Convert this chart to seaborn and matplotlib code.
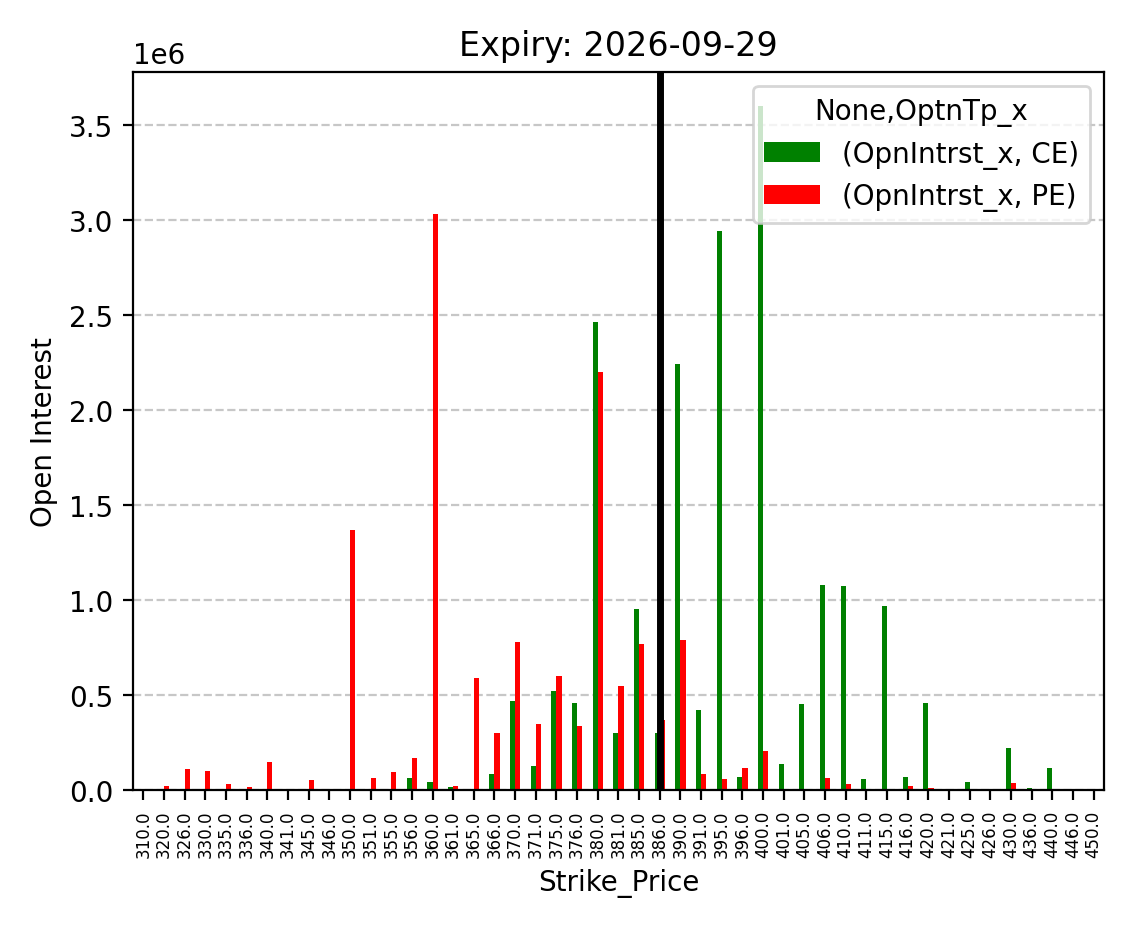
import matplotlib
matplotlib.use("Agg")
import matplotlib.pyplot as plt
import seaborn as sns
import pandas as pd

strikes = [310,320,326,330,335,336,340,341,345,346,350,351,355,356,360,361,365,366,370,371,375,376,380,381,385,386,390,391,395,396,400,401,405,406,410,411,415,416,420,421,425,426,430,436,440,446,450]
ce = [0,0,0,0,0,0,0,0.005,0,0.005,0,0,0,0.065,0.04,0.015,0.005,0.085,0.47,0.125,0.52,0.46,2.46,0.30,0.95,0.30,2.24,0.42,2.94,0.07,3.60,0.135,0.45,1.08,1.075,0.055,0.97,0.07,0.455,0,0.04,0,0.22,0.01,0.115,0.005,0]
pe = [0,0.02,0.11,0.10,0.03,0.015,0.145,0.005,0.05,0.005,1.37,0.065,0.095,0.17,3.03,0.02,0.59,0.30,0.78,0.345,0.60,0.335,2.20,0.545,0.77,0.37,0.79,0.085,0.06,0.115,0.205,0.005,0,0.065,0.03,0,0,0.02,0.01,0,0,0,0.038,0,0,0.005,0]
spot_strike = 386

labels = [f"{s:.1f}" for s in strikes]
df = pd.DataFrame({
    "Strike_Price": labels * 2,
    "OI": [v * 1e6 for v in ce] + [v * 1e6 for v in pe],
    "type": ["(OpnIntrst_x, CE)"] * len(ce) + ["(OpnIntrst_x, PE)"] * len(pe),
})

fig, ax = plt.subplots(figsize=(5.67, 4.64), dpi=200)
sns.barplot(data=df, x="Strike_Price", y="OI", hue="type", order=labels,
            palette=["green", "red"], width=0.5, gap=0, ax=ax, saturation=1)
ax.axvline(labels.index(f"{spot_strike:.1f}"), color="black", lw=2.5)
ax.set_ylim(0, 3.78e6)
ax.set_xlim(-0.5, len(labels) - 0.5)
ax.grid(axis="y", linestyle="--", alpha=0.7)
ax.set_axisbelow(True)
ax.tick_params(axis="x", labelrotation=90, labelsize=6)
ax.set_title("Expiry: 2026-09-29")
ax.set_xlabel("Strike_Price")
ax.set_ylabel("Open Interest")
ax.legend(title="None,OptnTp_x", loc="upper right")
fig.tight_layout()
fig.savefig("out.png", dpi=200)
